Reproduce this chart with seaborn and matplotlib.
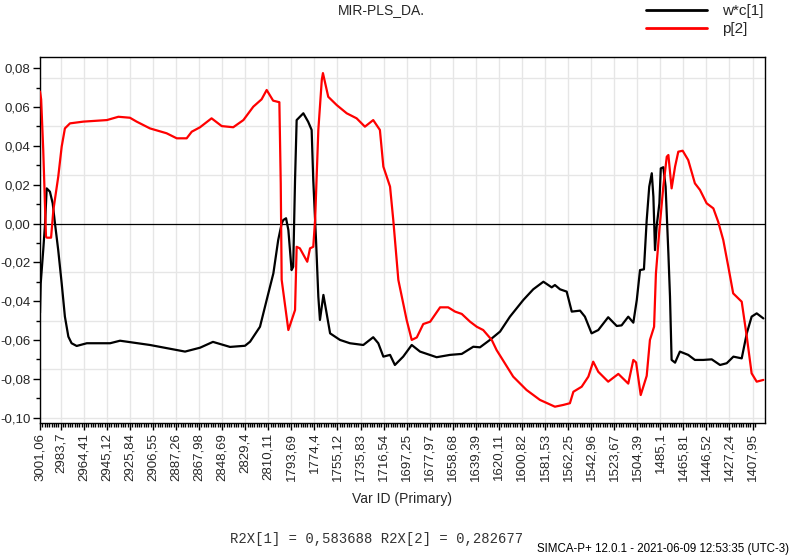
import matplotlib
matplotlib.use("Agg")
import matplotlib.pyplot as plt
from matplotlib.ticker import FixedLocator, MultipleLocator
from matplotlib.lines import Line2D
import seaborn as sns
import pandas as pd

# ---------------- data ----------------
tick_labels = ["3001,06", "2983,7", "2964,41", "2945,12", "2925,84", "2906,55",
               "2887,26", "2867,98", "2848,69", "2829,4", "2810,11", "1793,69",
               "1774,4", "1755,12", "1735,83", "1716,54", "1697,25", "1677,97",
               "1658,68", "1639,39", "1620,11", "1600,82", "1581,53", "1562,25",
               "1542,96", "1523,67", "1504,39", "1485,1", "1465,81", "1446,52",
               "1427,24", "1407,95"]
tick_index = [0, 9, 19, 29, 39, 49, 59, 69, 79, 89, 99, 109, 119, 129, 139, 149,
              159, 169, 179, 189, 199, 209, 219, 229, 239, 249, 259, 269, 279,
              289, 299, 309]

wc1_x = [0, 0.3, 1.4, 2.2, 2.9, 4.3, 5.5, 6.5, 7.9, 9.4, 10.8, 12.3, 13.7, 15.9,
         20.3, 30.4, 34.7, 47.7, 62.9, 69.4, 75.0, 82.4, 88.9, 91.1, 95.4, 98.3,
         101.2, 103.3, 104.8, 105.5, 106.7, 107.7, 109.1, 109.8, 110.6, 111.3,
         114.2, 116.3, 117.8, 118.5, 119.7, 120.7, 121.4, 122.9, 124.3, 125.8,
         130.1, 134.4, 140.2, 144.5, 146.7, 148.9, 151.8, 153.9, 157.5, 161.2,
         164.8, 172.0, 177.8, 182.9, 187.9, 190.8, 195.1, 199.5, 203.8, 209.6,
         213.9, 218.3, 221.9, 223.3, 225.5, 228.4, 230.6, 234.2, 236.3, 239.2,
         242.1, 246.4, 250.1, 252.2, 255.1, 257.3, 258.8, 260.2, 261.9, 263.1,
         264.2, 265.3, 266.0, 266.7, 267.4, 268.6, 269.2, 270.3, 271.3, 272.5,
         273.2, 273.9, 275.4, 277.5, 281.1, 284.0, 287.6, 291.3, 294.9, 297.8,
         300.7, 304.3, 306.5, 308.6, 310.8, 313.7]
wc1_y = [-0.046, -0.031, -0.0137, 0.0, 0.0181, 0.0164, 0.0104, 0.0, -0.0137,
         -0.0308, -0.048, -0.0583, -0.0617, -0.0631, -0.0617, -0.0617, -0.0604,
         -0.0626, -0.066, -0.064, -0.061, -0.0636, -0.063, -0.0609, -0.0532,
         -0.0394, -0.0257, -0.0085, 0.0, 0.0018, 0.0027, -0.0033, -0.024, -0.0223,
         0.0224, 0.0533, 0.0568, 0.0524, 0.0482, 0.0224, -0.0085, -0.0377,
         -0.0497, -0.0368, -0.0463, -0.0566, -0.06, -0.0617, -0.0626, -0.0586,
         -0.0617, -0.0686, -0.0677, -0.0729, -0.0686, -0.0626, -0.066, -0.0689,
         -0.0677, -0.0672, -0.0635, -0.0638, -0.06, -0.0557, -0.048, -0.0394,
         -0.0339, -0.030, -0.0329, -0.0317, -0.0339, -0.0351, -0.0454, -0.0449,
         -0.048, -0.0566, -0.0549, -0.0483, -0.0528, -0.0525, -0.048, -0.0511,
         -0.0394, -0.024, -0.0236, 0.0018, 0.019, 0.0259, 0.0138, -0.0137,
         -0.0016, 0.0104, 0.0284, 0.029, 0.019, -0.0154, -0.0377, -0.0703,
         -0.0717, -0.066, -0.0677, -0.0703, -0.0703, -0.070, -0.0729, -0.072,
         -0.0686, -0.0695, -0.0566, -0.048, -0.0463, -0.0489]

p2_x = [0, 0.5, 1.4, 2.6, 3.0, 4.8, 5.8, 7.9, 9.4, 10.8, 13.0, 18.8, 29.0, 34.0,
        39.0, 41.9, 47.7, 54.9, 59.3, 63.6, 65.8, 69.4, 74.4, 78.8, 83.8, 88.2,
        92.5, 96.1, 98.3, 101.1, 103.8, 104.4, 104.8, 107.7, 110.6, 111.3, 112.7,
        115.9, 117.1, 118.5, 119.3, 120.7, 122.2, 122.7, 125.0, 128.7, 133.0,
        137.3, 140.9, 144.5, 147.4, 148.9, 151.8, 153.2, 155.4, 159.0, 161.2,
        163.4, 166.2, 169.2, 173.5, 177.0, 180.0, 182.9, 186.5, 189.4, 192.2,
        195.9, 198.0, 205.2, 211.0, 216.8, 223.3, 226.9, 229.8, 231.3, 234.9,
        237.8, 239.9, 242.1, 246.4, 250.8, 255.1, 257.3, 258.5, 260.5, 263.1,
        264.5, 266.3, 267.1, 268.6, 270.3, 271.8, 272.5, 273.9, 275.4, 276.8,
        278.7, 281.1, 284.0, 286.2, 289.1, 292.0, 294.1, 296.3, 298.5, 300.6,
        304.3, 306.5, 308.6, 310.8, 313.7]
p2_y = [0.068, 0.064, 0.038, -0.0068, -0.0073, -0.0073, 0.007, 0.024, 0.0396,
        0.049, 0.0516, 0.0525, 0.0533, 0.055, 0.0545, 0.0525, 0.049, 0.0465,
        0.0439, 0.0439, 0.0473, 0.0496, 0.0542, 0.0502, 0.0496, 0.0533, 0.0602,
        0.064, 0.0688, 0.0633, 0.0625, 0.0207, -0.029, -0.0549, -0.0446, -0.012,
        -0.0128, -0.0197, -0.0128, -0.012, 0.0018, 0.0482, 0.074, 0.0775, 0.0653,
        0.061, 0.0568, 0.0542, 0.0499, 0.0533, 0.0482, 0.0293, 0.019, 0.0018,
        -0.0291, -0.0497, -0.060, -0.0587, -0.0518, -0.0506, -0.0432, -0.0432,
        -0.0454, -0.0466, -0.0506, -0.0532, -0.0549, -0.060, -0.0652, -0.0789,
        -0.0858, -0.0909, -0.0944, -0.0935, -0.0926, -0.0867, -0.0841, -0.0789,
        -0.0712, -0.0764, -0.0815, -0.0775, -0.0825, -0.0703, -0.0716, -0.0884,
        -0.0785, -0.060, -0.0532, -0.0257, -0.0033, 0.019, 0.0344, 0.0353,
        0.0181, 0.0293, 0.037, 0.0375, 0.0327, 0.0207, 0.0173, 0.0104, 0.0078,
        0.0009, -0.0085, -0.0223, -0.036, -0.0403, -0.0583, -0.0772, -0.0815,
        -0.0806]

series_names = ["w*c[1]", "p[2]"]
series_colors = ["black", "red"]
title_text = "MIR-PLS_DA."
xlabel_text = "Var ID (Primary)"
footer_text = "R2X[1] = 0,583688 R2X[2] = 0,282677"
stamp_text = "SIMCA-P+ 12.0.1 - 2021-06-09 12:53:35 (UTC-3)"
n_vars = 311
y_ticks = [0.08, 0.06, 0.04, 0.02, 0.0, -0.02, -0.04, -0.06, -0.08, -0.10]

# ---------------- plot ----------------
sns.set_theme(style="white")
plt.rcParams["font.family"] = ["Liberation Sans", "DejaVu Sans"]

df = pd.concat([
    pd.DataFrame({"var": wc1_x, "value": wc1_y, "series": series_names[0]}),
    pd.DataFrame({"var": p2_x, "value": p2_y, "series": series_names[1]}),
], ignore_index=True)

fig = plt.figure(figsize=(7.9, 5.57), dpi=100)
ax = fig.add_axes([40 / 790, 1 - 423 / 557, 725 / 790, 366 / 557])

# grid
for gx in tick_index:
    ax.axvline(gx, color="#e6e6e6", lw=1.0, zorder=0)
for gy in [0.075, 0.05, 0.025, -0.025, -0.05, -0.075, -0.1]:
    ax.axhline(gy, color="#e6e6e6", lw=1.0, zorder=0)
ax.axhline(0, color="black", lw=0.9, zorder=1)

sns.lineplot(data=df, x="var", y="value", hue="series", hue_order=series_names,
             palette=dict(zip(series_names, series_colors)), estimator=None,
             sort=False, lw=1.6, ax=ax, legend=False, zorder=3)

ax.set_xlim(0, 314.4)
ax.set_ylim(-0.1028, 0.0858)

ax.xaxis.set_major_locator(FixedLocator(tick_index))
ax.set_xticklabels(tick_labels, rotation=90, fontsize=9.5)
ax.xaxis.set_minor_locator(FixedLocator(list(range(n_vars))))
ax.set_yticks(y_ticks)
ax.set_yticklabels([f"{v:.2f}".replace(".", ",") for v in y_ticks], fontsize=9.5)
ax.yaxis.set_minor_locator(MultipleLocator(0.01))
ax.tick_params(axis="both", which="major", direction="out", length=5, width=1,
               color="black", pad=2, bottom=True, left=True)
ax.tick_params(axis="both", which="minor", direction="out", length=3, width=1,
               color="black", bottom=True, left=True)
for s in ax.spines.values():
    s.set_color("black")
    s.set_linewidth(1.0)

ax.set_xlabel(xlabel_text, fontsize=10, labelpad=8)
ax.set_ylabel("")

fig.text(381 / 790, 1 - 10 / 557, title_text, ha="center", va="center", fontsize=10)

# legend (figure corner, as in the reference)
handles = [Line2D([], [], color=c, lw=2) for c in series_colors]
fig.legend(handles, series_names, loc="upper left",
           bbox_to_anchor=(640 / 790, 1 + 2 / 557),
           frameon=False, fontsize=11, handlelength=4.0, handletextpad=1.0,
           labelspacing=0.25, borderaxespad=0.2, borderpad=0.2)

fig.text(230 / 790, 1 - 539 / 557, footer_text, ha="left", va="center",
         fontsize=10, family=["Liberation Mono", "DejaVu Sans Mono"], color="#333333")
fig.text(789 / 790, 1 - 549 / 557, stamp_text, ha="right", va="center",
         fontsize=8.3, color="black")

fig.savefig("out.png", dpi=100)
